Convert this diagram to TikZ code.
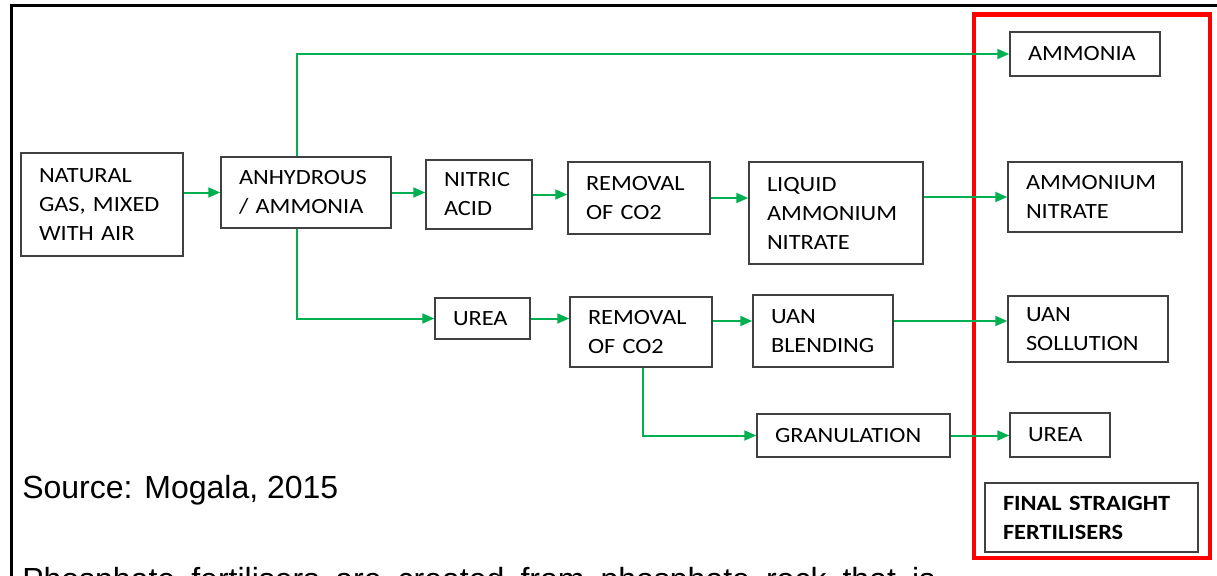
\documentclass[tikz,border=0pt]{standalone}
\usepackage{fontspec}
\newfontfamily\boxfont[FakeStretch=1.12]{Carlito}
\newfontfamily\arialfont{Liberation Sans}
\usetikzlibrary{arrows.meta}
\newlength\px \setlength\px{0.75pt}
\definecolor{arrgreen}{RGB}{0,176,80}
\definecolor{boxgray}{RGB}{64,64,64}
\tikzset{
 procbox/.style={draw=boxgray, line width=1.5\px, inner ysep=0pt, align=left,
   font=\boxfont\fontsize{16.3}{21.75}\selectfont, text=black},
 arr/.style={draw=arrgreen, line width=2\px, -{Triangle[length=9pt,width=7.5pt]}},
 frameline/.style={draw=black, line width=3\px},
 redframe/.style={draw=red, line width=4.5\px},
 srctext/.style={anchor=base west, inner sep=0pt, font=\arialfont\fontsize{24}{28}\selectfont},
}
% [opts]{name}{x1}{y1}{x2}{y2}{text}
\newcommand\pbox[7][]{%
 \pgfmathsetmacro\pbw{(#5-#3)*0.75}%
 \pgfmathsetmacro\pbh{(#6-#4)*0.75}%
 \pgfmathsetmacro\pbt{(#5-#3-36)*0.75}%
 \pgfmathsetmacro\pbx{(#3+#5)/2}%
 \pgfmathsetmacro\pby{(#4+#6)/2}%
 \node[procbox, minimum width=\pbw pt, minimum height=\pbh pt, text width=\pbt pt, inner xsep=13.5pt, #1] (#2) at (\pbx,\pby) {#7};}
\begin{document}
\begin{tikzpicture}[x=0.75pt, y=-0.75pt]
\useasboundingbox (0,0) rectangle (1217,575);
\clip (0,0) rectangle (1217,575);
\fill[white] (0,0) rectangle (1217,575);
% outer frame (partly visible)
\draw[frameline] (11,590) -- (11,5) -- (1230,5);
% red frame
\draw[redframe] (974,14.5) rectangle (1210,558);
% boxes
\pbox{ng}{21}{153}{183}{256}{NATURAL\\GAS, MIXED\\WITH AIR}
\pbox{anh}{221}{157}{391}{228}{ANHYDROUS\\/ AMMONIA}
\pbox{nitric}{426}{160}{532}{229}{NITRIC\\ACID}
\pbox{rem1}{568}{162}{710}{234}{REMOVAL\\OF CO2}
\pbox{liq}{749}{162}{923}{264}{LIQUID\\AMMONIUM\\NITRATE}
\pbox{urea1}{435}{298}{530}{339}{UREA}
\pbox{rem2}{570}{297}{712}{367}{REMOVAL\\OF CO2}
\pbox{uanb}{753}{295}{893}{367}{UAN\\BLENDING}
\pbox{gran}{757}{414}{950}{457}{GRANULATION}
\pbox{amm}{1010}{32}{1160}{76}{AMMONIA}
\pbox{amn}{1008}{162}{1182}{232}{AMMONIUM\\NITRATE}
\pbox{uans}{1008}{296}{1168}{362}{UAN\\SOLLUTION}
\pbox{urea2}{1010}{413}{1110}{457}{UREA}
\pbox[font=\boxfont\bfseries\fontsize{16.3}{21.75}\selectfont]{final}{985}{483}{1198}{552}{FINAL STRAIGHT\\FERTILISERS}
% helper coordinates
\coordinate (vx) at (297,0);
\coordinate (vg) at (643,0);
\coordinate (yu) at (0,321);
% connectors
\draw[arr] (ng.east |- anh.west) -- (anh.west);
\draw[arr] (anh.east) -- (anh.east -| nitric.west);
\draw[arr] (nitric.east) -- (nitric.east -| rem1.west);
\draw[arr] (rem1.east) -- (rem1.east -| liq.west);
\draw[arr] (liq.east |- amn.west) -- (amn.west);
\draw[arr] (anh.north -| vx) |- (amm.west);
\draw[arr] (anh.south -| vx) |- (urea1.west);
\draw[arr] (urea1.east) -- (urea1.east -| rem2.west);
\draw[arr] (rem2.east |- yu) -- (uanb.west |- yu);
\draw[arr] (uanb.east |- yu) -- (uans.west |- yu);
\draw[arr] (rem2.south -| vg) |- (gran.west);
\draw[arr] (gran.east) -- (gran.east -| urea2.west);
% texts
\node[srctext] (src) at (22,498) {Source: Mogala, 2015};
\node[srctext] (para) at (22,590) {\makebox[684.75pt][s]{Phosphate fertilisers are created from phosphate rock that is}};
\end{tikzpicture}
\end{document}
